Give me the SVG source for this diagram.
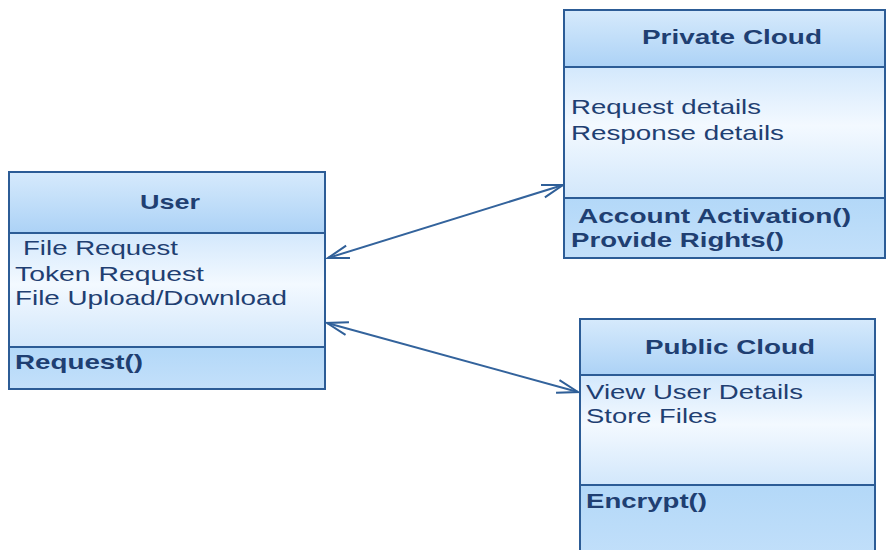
<svg xmlns="http://www.w3.org/2000/svg" width="887" height="550" viewBox="0 0 887 550">
  <defs>
    <linearGradient id="gHead" x1="0" y1="0" x2="0" y2="1">
      <stop offset="0" stop-color="#d6eafc"/>
      <stop offset="1" stop-color="#acd2f6"/>
    </linearGradient>
    <linearGradient id="gAttr" x1="0" y1="0" x2="0" y2="1">
      <stop offset="0" stop-color="#d3e8fc"/>
      <stop offset="0.45" stop-color="#f3f9ff"/>
      <stop offset="1" stop-color="#d2e7fb"/>
    </linearGradient>
    <linearGradient id="gOps" x1="0" y1="0" x2="0" y2="1">
      <stop offset="0" stop-color="#b3d8f8"/>
      <stop offset="1" stop-color="#c3e0fa"/>
    </linearGradient>
    <marker id="open" viewBox="-22 -8 24 16" refX="0" refY="0" markerWidth="24" markerHeight="16" markerUnits="userSpaceOnUse" orient="auto-start-reverse">
      <path d="M-21,-6.5 L0,0 L-21,6.5" fill="none" stroke="#2f5f98" stroke-width="2"/>
    </marker>
    <style>
      .box { stroke: #2c5c96; stroke-width: 2; }
      .t { font-family: "Liberation Sans", Arial, sans-serif; font-size: 21px; fill: #1f3f72; }
      .b { font-weight: bold; }
      .link { fill: none; stroke: #33639c; stroke-width: 2; }
    </style>
  </defs>

  <!-- associations -->
  <g id="connectors">
    <line class="link" x1="328" y1="258" x2="563" y2="185" marker-start="url(#open)" marker-end="url(#open)"/>
    <line class="link" x1="327" y1="323" x2="578" y2="392" marker-start="url(#open)" marker-end="url(#open)"/>
  </g>

  <!-- User class -->
  <g id="user">
    <rect class="box" x="9" y="172" width="316" height="61" fill="url(#gHead)"/>
    <rect class="box" x="9" y="233" width="316" height="114" fill="url(#gAttr)"/>
    <rect class="box" x="9" y="347" width="316" height="42" fill="url(#gOps)"/>
    <text class="t b" x="140" y="209" textLength="60" lengthAdjust="spacingAndGlyphs">User</text>
    <text class="t" x="23" y="255" textLength="155" lengthAdjust="spacingAndGlyphs">File Request</text>
    <text class="t" x="15" y="281" textLength="189" lengthAdjust="spacingAndGlyphs">Token Request</text>
    <text class="t" x="15" y="305" textLength="272" lengthAdjust="spacingAndGlyphs">File Upload/Download</text>
    <text class="t b" x="15" y="369" textLength="128" lengthAdjust="spacingAndGlyphs">Request()</text>
  </g>

  <!-- Private Cloud class -->
  <g id="private-cloud">
    <rect class="box" x="564" y="10" width="321" height="57" fill="url(#gHead)"/>
    <rect class="box" x="564" y="67" width="321" height="131" fill="url(#gAttr)"/>
    <rect class="box" x="564" y="198" width="321" height="60" fill="url(#gOps)"/>
    <text class="t b" x="642" y="44" textLength="180" lengthAdjust="spacingAndGlyphs">Private Cloud</text>
    <text class="t" x="571" y="114" textLength="190" lengthAdjust="spacingAndGlyphs">Request details</text>
    <text class="t" x="571" y="140" textLength="213" lengthAdjust="spacingAndGlyphs">Response details</text>
    <text class="t b" x="578" y="223" textLength="273" lengthAdjust="spacingAndGlyphs">Account Activation()</text>
    <text class="t b" x="571" y="247" textLength="213" lengthAdjust="spacingAndGlyphs">Provide Rights()</text>
  </g>

  <!-- Public Cloud class -->
  <g id="public-cloud">
    <rect class="box" x="580" y="319" width="295" height="56" fill="url(#gHead)"/>
    <rect class="box" x="580" y="375" width="295" height="110" fill="url(#gAttr)"/>
    <rect class="box" x="580" y="485" width="295" height="80" fill="url(#gOps)"/>
    <text class="t b" x="645" y="354" textLength="170" lengthAdjust="spacingAndGlyphs">Public Cloud</text>
    <text class="t" x="586" y="399" textLength="217" lengthAdjust="spacingAndGlyphs">View User Details</text>
    <text class="t" x="586" y="423" textLength="131" lengthAdjust="spacingAndGlyphs">Store Files</text>
    <text class="t b" x="586" y="508" textLength="121" lengthAdjust="spacingAndGlyphs">Encrypt()</text>
  </g>
</svg>
